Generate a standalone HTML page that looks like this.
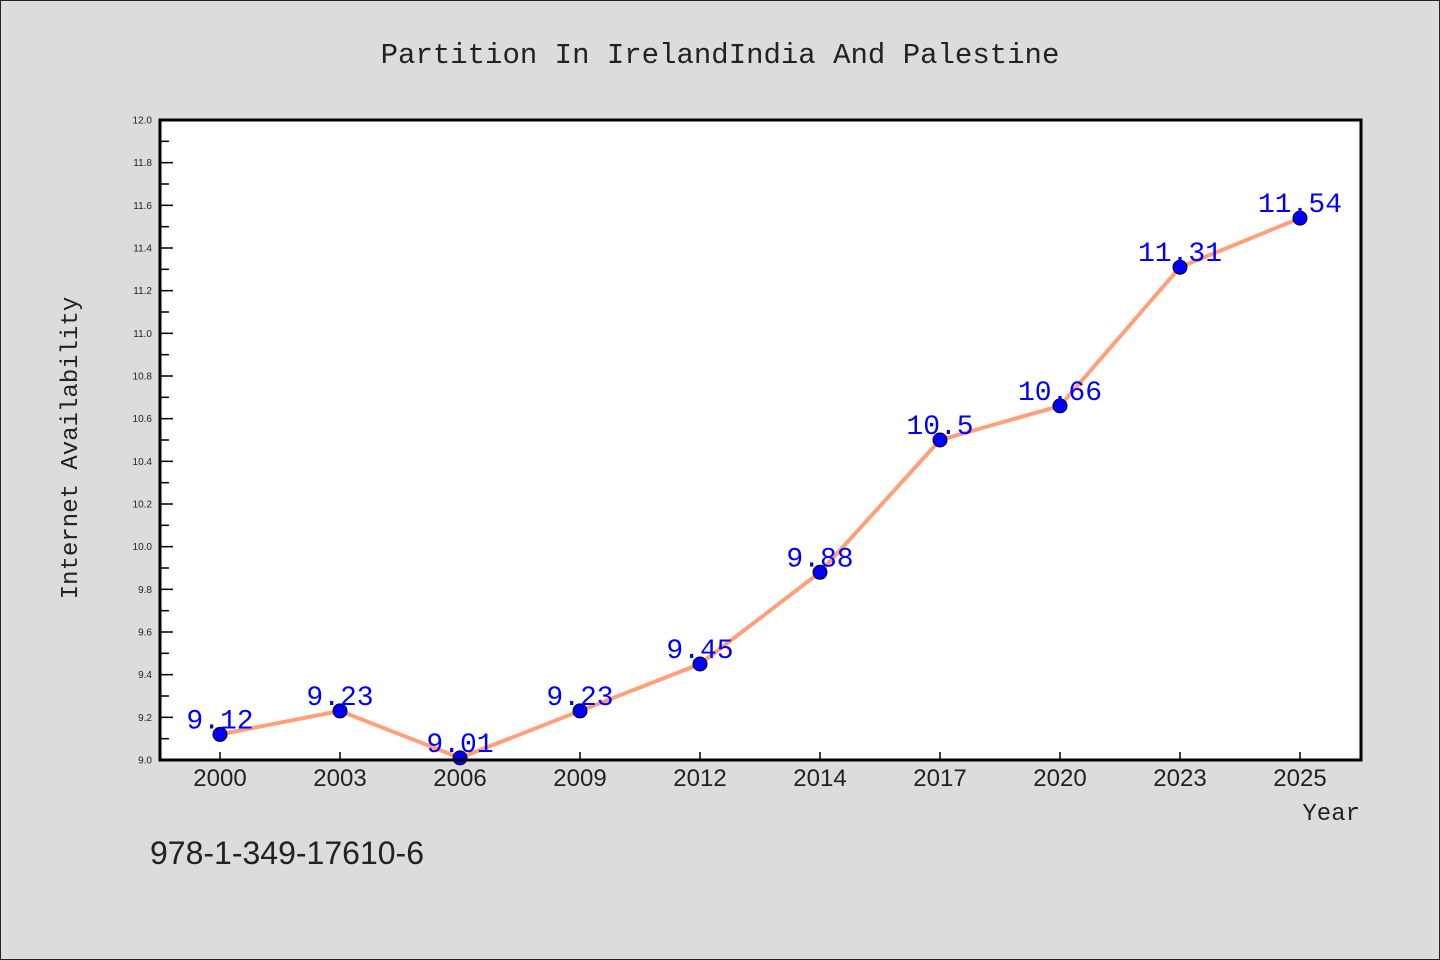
<!DOCTYPE html>
<html><head><meta charset="utf-8"><style>
html,body{margin:0;padding:0;background:#dcdcdc;}
svg{display:block;font-family:"Liberation Sans","WenQuanYi Zen Hei",sans-serif;}
</style></head><body>
<svg id="chart" width="1440" height="960" viewBox="0 0 1440 960">
<rect x="0.5" y="0.5" width="1439" height="959" fill="#dcdcdc" stroke="#222"/>
<text x="720" y="63" text-anchor="middle" font-size="29" fill="#222" font-family="'WenQuanYi Zen Hei','Liberation Mono',monospace">Partition In IrelandIndia And Palestine</text>
<rect x="160" y="120" width="1201" height="640" fill="#fff"/>
<g id="axes"></g>
<g id="series"></g>
<rect x="160" y="120" width="1201" height="640" fill="none" stroke="#000" stroke-width="3"/>
<text x="77" y="448" text-anchor="middle" font-size="24" fill="#222" transform="rotate(-90 77 448)" font-family="'WenQuanYi Zen Hei','Liberation Mono',monospace">Internet Availability</text>
<text x="1360" y="820" text-anchor="end" font-size="24" fill="#222" font-family="'WenQuanYi Zen Hei','Liberation Mono',monospace">Year</text>
<text x="150" y="864" font-size="32" fill="#222">978-1-349-17610-6</text>
</svg>
<script>
const categories = ["2000","2003","2006","2009","2012","2014","2017","2020","2023","2025"];
const values = [9.12, 9.23, 9.01, 9.23, 9.45, 9.88, 10.5, 10.66, 11.31, 11.54];
const valueLabels = ["9.12","9.23","9.01","9.23","9.45","9.88","10.5","10.66","11.31","11.54"];
const yTicks = [9.0,9.2,9.4,9.6,9.8,10.0,10.2,10.4,10.6,10.8,11.0,11.2,11.4,11.6,11.8,12.0];
const yMin = 9.0, yMax = 12.0;
const L=160,R=1361,T=120,B=760;
const NS="http://www.w3.org/2000/svg";
function x(i){return 220 + i*120;}
function y(v){return B-(v-yMin)/(yMax-yMin)*(B-T);}
function mk(tag,attrs,parent){const e=document.createElementNS(NS,tag);for(const k in attrs)e.setAttribute(k,attrs[k]);parent.appendChild(e);return e;}
const ax=document.getElementById('axes'), se=document.getElementById('series');
yTicks.forEach((t,i)=>{
  const yy=y(t);
  const l=mk('line',{x1:L,x2:L+13,y1:yy,y2:yy,stroke:'#000','stroke-width':1.5},ax);
  
  
  const tx=mk('text',{x:152,y:yy+3.5,'text-anchor':'end','font-size':10,fill:'#222'},ax);
  tx.textContent=t.toFixed(1);
  
  
  if(i<yTicks.length-1){
    const ym=y(t+0.1);
    const m=mk('line',{x1:L,x2:L+9,y1:ym,y2:ym,stroke:'#000','stroke-width':1.5},ax);
    
    
  }
});
categories.forEach((c,i)=>{
  const xx=x(i);
  const l=mk('line',{x1:xx,x2:xx,y1:B,y2:B-8,stroke:'#000','stroke-width':1.5},ax);
  
  
  const tx=mk('text',{x:xx,y:786,'text-anchor':'middle','font-size':24,fill:'#222'},ax);
  tx.textContent=c;
  
  
});
const pl=mk('polyline',{points:values.map((v,i)=>x(i)+','+y(v)).join(' '),fill:'none',stroke:'#ffa07a','stroke-width':4,'stroke-linejoin':'round'},se);


values.forEach((v,i)=>{
  const c=mk('circle',{cx:x(i),cy:y(v),r:7,fill:'#0000ff',stroke:'#000','stroke-width':1},se);
  
  
});
values.forEach((v,i)=>{
  const t=mk('text',{x:x(i),y:y(v)-6,'text-anchor':'middle','font-size':28,fill:'#0000ff','font-family':"'WenQuanYi Zen Hei','Liberation Mono',monospace"},se);
  t.textContent=valueLabels[i];
  
  
});
</script>
</body></html>
